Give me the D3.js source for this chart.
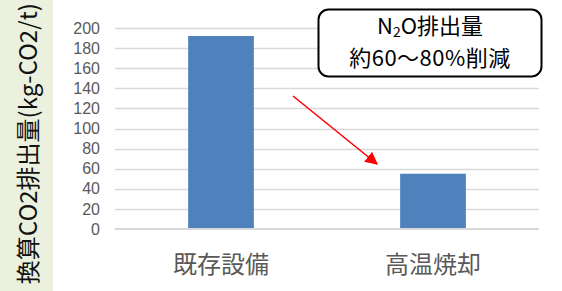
<!DOCTYPE html>
<html>
<head>
<meta charset="utf-8">
<script src="https://cdn.jsdelivr.net/npm/d3@7"></script>
<style>
  html, body { margin: 0; padding: 0; background: #fff; }
  svg { display: block; }
</style>
</head>
<body>
<svg width="562" height="291"></svg>
<script>
// data
const categories = ["既存設備", "高温焼却"];
const values = [192, 55];
const yTicks = [0, 20, 40, 60, 80, 100, 120, 140, 160, 180, 200];
const yTitle = "換算CO2排出量(kg-CO2/t)";
const noteLine2 = "約60〜80%削減";

const jp = "'Noto Sans CJK JP', 'Noto Sans', sans-serif";
const num = "'Liberation Sans', Arial, sans-serif";

let svg = d3.select("svg");

// left strip behind the axis title
svg.append("rect")
  .attr("x", 0).attr("y", 0)
  .attr("width", 53).attr("height", 291)
  .attr("fill", "#ebf1de");

let x = d3.scaleBand()
  .domain(categories)
  .range([115, 539])
  .paddingInner(0.69)
  .paddingOuter(0.345);

let y = d3.scaleLinear()
  .domain([0, 200])
  .range([229, 28]);

// gridlines
svg.append("g")
  .selectAll("line")
  .data(yTicks.filter(d => d > 0))
  .enter().append("line")
  .attr("x1", 115).attr("x2", 539)
  .attr("y1", d => Math.round(y(d)) + 0.5)
  .attr("y2", d => Math.round(y(d)) + 0.5)
  .attr("stroke", "#d9d9d9")
  .attr("stroke-width", 1.5);

// y axis labels only
let yAxis = svg.append("g")
  .attr("transform", "translate(100,0)")
  .call(d3.axisLeft(y).tickValues(yTicks).tickSize(0).tickPadding(0));
yAxis.select(".domain").remove();
yAxis.selectAll("text")
  .attr("font-family", num)
  .attr("font-size", 16)
  .attr("fill", "#595959");

// bars
svg.append("g")
  .selectAll("rect")
  .data(values)
  .enter().append("rect")
  .attr("x", (d, i) => x(categories[i]))
  .attr("y", d => y(d))
  .attr("width", x.bandwidth())
  .attr("height", d => y(0) - y(d))
  .attr("fill", "#4f81bd");

// baseline
svg.append("line")
  .attr("x1", 115).attr("x2", 539)
  .attr("y1", y(0)).attr("y2", y(0))
  .attr("stroke", "#d9d9d9")
  .attr("stroke-width", 2);

// category labels
let xAxis = svg.append("g")
  .attr("transform", `translate(0,${y(0)})`)
  .call(d3.axisBottom(x).tickSize(0).tickPadding(0));
xAxis.select(".domain").remove();
xAxis.selectAll("text")
  .attr("dy", null)
  .attr("y", 44)
  .attr("font-family", jp)
  .attr("font-size", 24)
  .attr("fill", "#595959");

// axis title (runs off the bottom like the original)
svg.append("text")
  .attr("transform", "translate(37,3) rotate(-90)")
  .attr("text-anchor", "end")
  .attr("font-family", jp)
  .attr("font-size", 24)
  .attr("fill", "#111")
  .text(yTitle);

// red arrow
let defs = svg.append("defs");
defs.append("marker")
  .attr("id", "head")
  .attr("viewBox", "0 0 10 10")
  .attr("refX", 9).attr("refY", 5)
  .attr("markerWidth", 8).attr("markerHeight", 8)
  .attr("markerUnits", "strokeWidth")
  .attr("orient", "auto")
  .append("path")
  .attr("d", "M0,0 L10,5 L0,10 z")
  .attr("fill", "#ff0000");

svg.append("line")
  .attr("x1", 293).attr("y1", 96)
  .attr("x2", 377).attr("y2", 164)
  .attr("stroke", "#ff0000")
  .attr("stroke-width", 1.6)
  .attr("marker-end", "url(#head)");

// note box
svg.append("rect")
  .attr("x", 318.5).attr("y", 9.5)
  .attr("width", 223).attr("height", 67)
  .attr("rx", 10).attr("ry", 10)
  .attr("fill", "#fff")
  .attr("stroke", "#000")
  .attr("stroke-width", 2);

let note1 = svg.append("text")
  .attr("x", 430).attr("y", 34)
  .attr("text-anchor", "middle")
  .attr("font-family", jp)
  .attr("font-size", 22)
  .attr("fill", "#000");
note1.append("tspan").text("N");
note1.append("tspan").attr("font-size", 14).attr("dy", 3).text("2");
note1.append("tspan").attr("dy", -3).text("O排出量");

svg.append("text")
  .attr("x", 430).attr("y", 66)
  .attr("text-anchor", "middle")
  .attr("font-family", jp)
  .attr("font-size", 22)
  .attr("letter-spacing", 0.5)
  .attr("fill", "#000")
  .text(noteLine2);
</script>
</body>
</html>
